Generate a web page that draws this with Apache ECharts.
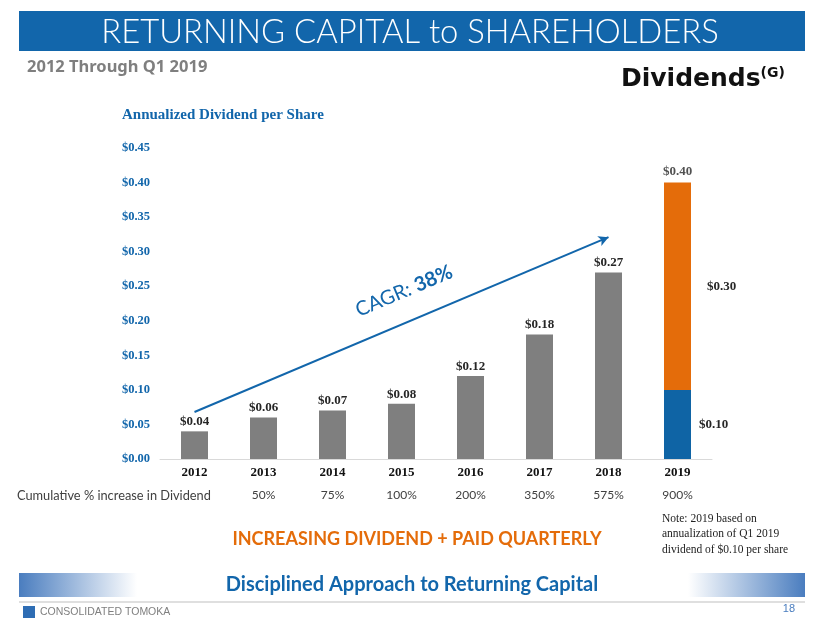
<!DOCTYPE html>
<html>
<head>
<meta charset="utf-8">
<script src="https://cdn.jsdelivr.net/npm/echarts@6/dist/echarts.min.js"></script>
<style>
html,body{margin:0;padding:0;background:#fff;}
#chart{width:824px;height:637px;}
</style>
</head>
<body>
<div id="chart"></div>
<script>
const years = ['2012', '2013', '2014', '2015', '2016', '2017', '2018', '2019'];
const annualDividend = [0.04, 0.06, 0.07, 0.08, 0.12, 0.18, 0.27, null];
const q1Dividend2019 = [null, null, null, null, null, null, null, 0.10];
const rest2019 = [null, null, null, null, null, null, null, 0.30];
const total2019 = [['2019', 0.40]];
const cumulativeIncrease = ['', '50%', '75%', '100%', '200%', '350%', '575%', '900%'];
const cagrStart = ['2012', 0.068];
const cagrEnd = ['2018', 0.321];

const blue = '#1266AB';
const serif = '"Liberation Serif", "Times New Roman", serif';
const money = v => '$' + Number(v).toFixed(2);

const chart = echarts.init(document.getElementById('chart'), null, {renderer: 'canvas'});
chart.setOption({
  animation: false,
  backgroundColor: '#ffffff',
  grid: {left: 160, width: 552, top: 148, height: 311},
  xAxis: [{
    type: 'category',
    data: years,
    axisLine: {lineStyle: {color: '#D9D9D9', width: 1}},
    axisTick: {show: false},
    axisLabel: {color: '#111', fontFamily: serif, fontWeight: 'bold', fontSize: 13, margin: 7}
  }, {
    type: 'category',
    data: cumulativeIncrease,
    position: 'bottom',
    offset: 30,
    axisLine: {show: false},
    axisTick: {show: false},
    axisLabel: {color: '#404040', fontFamily: 'Lato, sans-serif', fontSize: 12, margin: 0}
  }],
  yAxis: {
    type: 'value',
    min: 0, max: 0.45, interval: 0.05,
    splitLine: {show: false},
    axisLine: {show: false},
    axisTick: {show: false},
    axisLabel: {color: blue, fontFamily: serif, fontWeight: 'bold', fontSize: 12.5, margin: 10, formatter: money}
  },
  series: [{
    type: 'bar',
    name: 'Dividend',
    stack: 'd',
    data: annualDividend,
    barWidth: 27,
    itemStyle: {color: '#7F7F7F'},
    label: {show: true, position: 'top', distance: 3, color: '#262626', fontFamily: serif, fontWeight: 'bold', fontSize: 13,
      formatter: p => money(p.value)},
    markLine: {
      silent: true,
      symbol: ['none', 'arrow'],
      symbolSize: [8, 10],
      lineStyle: {color: blue, width: 2, type: 'solid'},
      label: {show: false},
      data: [[{coord: cagrStart}, {coord: cagrEnd}]]
    }
  }, {
    type: 'bar',
    name: 'Q1 2019',
    stack: 'd',
    data: q1Dividend2019,
    barWidth: 27,
    itemStyle: {color: '#0F64A5'},
    label: {show: true, position: 'right', distance: 8, color: '#262626', fontFamily: serif, fontWeight: 'bold', fontSize: 13,
      formatter: p => money(p.value)}
  }, {
    type: 'bar',
    name: 'Rest 2019',
    stack: 'd',
    data: rest2019,
    barWidth: 27,
    itemStyle: {color: '#E46C0A'},
    label: {show: true, position: 'right', distance: 16, color: '#262626', fontFamily: serif, fontWeight: 'bold', fontSize: 13,
      formatter: p => money(p.value)}
  }, {
    type: 'scatter',
    name: 'Total',
    data: total2019,
    symbolSize: 0,
    label: {show: true, position: 'top', distance: 4, color: '#262626', fontFamily: serif, fontWeight: 'bold', fontSize: 13,
      formatter: p => money(p.value[1])}
  }],
  graphic: [
    {type: 'rect', shape: {x: 19, y: 11, width: 786, height: 40}, style: {fill: '#1266AB'}},
    {type: 'text', x: 410, y: 32, style: {text: 'RETURNING CAPITAL to SHAREHOLDERS', fill: '#fff', font: '300 32.8px Lato, sans-serif', textAlign: 'center', textVerticalAlign: 'middle'}},
    {type: 'text', x: 27, y: 67, style: {text: '2012 Through Q1 2019', fill: '#7F7F7F', font: 'bold 16.5px "Noto Sans", sans-serif', textAlign: 'left', textVerticalAlign: 'middle'}},
    {type: 'text', x: 621, y: 79, style: {rich: {a: {font: 'bold 25px "DejaVu Sans", sans-serif', fill: '#111'}, s: {font: 'bold 14px "DejaVu Sans", sans-serif', fill: '#111', verticalAlign: 'top', padding: [0, 0, 12, 0]}}, text: '{a|Dividends}{s|(G)}', textAlign: 'left', textVerticalAlign: 'middle'}},
    {type: 'text', x: 122, y: 115, style: {text: 'Annualized Dividend per Share', fill: blue, font: 'bold 15px "Liberation Serif", serif', textAlign: 'left', textVerticalAlign: 'middle'}},
    {type: 'text', x: 404, y: 291, rotation: 0.40, style: {rich: {a: {font: '20px Lato, sans-serif', fill: blue}, b: {font: 'bold 20px Lato, sans-serif', fill: blue}}, text: '{a|CAGR: }{b|38%}', textAlign: 'center', textVerticalAlign: 'middle'}},
    {type: 'text', x: 17, y: 496, style: {text: 'Cumulative % increase in Dividend', fill: '#404040', font: '12.8px Lato, sans-serif', textAlign: 'left', textVerticalAlign: 'middle'}},
    {type: 'text', x: 417, y: 539, style: {text: 'INCREASING DIVIDEND + PAID QUARTERLY', fill: '#E46C0A', font: 'bold 18px Lato, sans-serif', textAlign: 'center', textVerticalAlign: 'middle'}},
    {type: 'text', x: 662, y: 534, style: {text: 'Note: 2019 based on\nannualization of Q1 2019\ndividend of $0.10 per share', fill: '#222', font: '11.5px "Liberation Serif", serif', lineHeight: 15.5, textAlign: 'left', textVerticalAlign: 'middle'}},
    {type: 'rect', shape: {x: 19, y: 573, width: 118, height: 24}, style: {fill: new echarts.graphic.LinearGradient(0, 0, 1, 0, [{offset: 0, color: '#4A7DBF'}, {offset: 1, color: 'rgba(255,255,255,1)'}])}},
    {type: 'rect', shape: {x: 688, y: 573, width: 117, height: 24}, style: {fill: new echarts.graphic.LinearGradient(0, 0, 1, 0, [{offset: 0, color: 'rgba(255,255,255,1)'}, {offset: 1, color: '#4A7DBF'}])}},
    {type: 'text', x: 412, y: 585, style: {text: 'Disciplined Approach to Returning Capital', fill: blue, font: 'bold 20px Lato, sans-serif', textAlign: 'center', textVerticalAlign: 'middle'}},
    {type: 'line', shape: {x1: 19, y1: 602, x2: 805, y2: 602}, style: {stroke: '#D4D4D4', lineWidth: 1.5}},
    {type: 'rect', shape: {x: 23, y: 606, width: 12, height: 12}, style: {fill: '#2E6DB4'}},
    {type: 'text', x: 40, y: 612, style: {text: 'CONSOLIDATED TOMOKA', fill: '#7F7F7F', font: '10.5px "Liberation Sans", sans-serif', textAlign: 'left', textVerticalAlign: 'middle'}},
    {type: 'text', x: 795, y: 609, style: {text: '18', fill: '#4A7DBF', font: '11px "Liberation Sans", sans-serif', textAlign: 'right', textVerticalAlign: 'middle'}}
  ]
});
</script>
</body>
</html>
